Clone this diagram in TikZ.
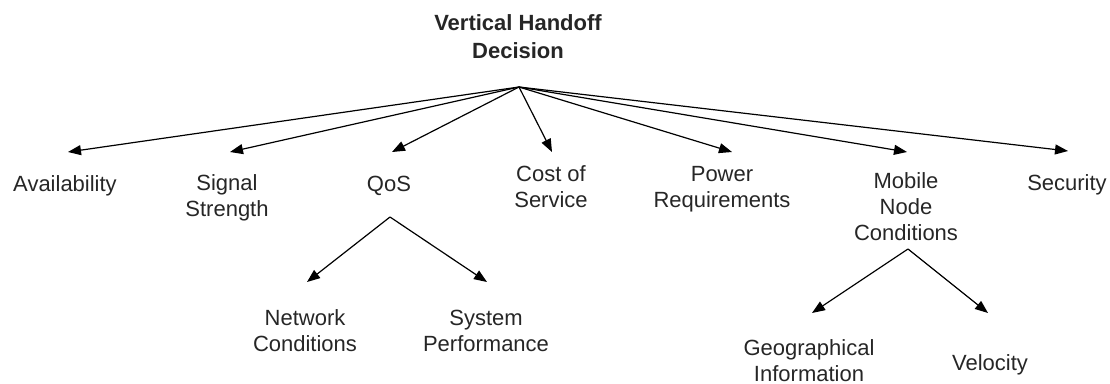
\documentclass[tikz,border=0pt]{standalone}
\usepackage{fontspec}
\setmainfont{Liberation Sans}
\usetikzlibrary{arrows.meta}
\tikzset{
  lbl/.style={align=center, anchor=base, inner sep=0pt, text=black!85,
    font=\fontsize{22}{26}\selectfont},
  ttl/.style={lbl, font=\bfseries\fontsize{22}{28}\selectfont},
  link/.style={line width=1.2pt, -{Triangle[length=13pt,width=10pt]}}
}
\begin{document}
\begin{tikzpicture}[x=1pt,y=-1pt]
\useasboundingbox (0,0) rectangle (1110,383);

% root of the decision tree (positions give the baseline of the last line)
\node[ttl] (vhd) at (518,58) {Vertical Handoff\\Decision};
\coordinate (root) at (519,87);

% first-level criteria
\node[lbl] (avail) at (65,191) {Availability};
\node[lbl] (sig)   at (227,216) {Signal\\Strength};
\node[lbl] (qos)   at (389,191) {QoS};
\node[lbl] (cost)  at (551,207) {Cost of\\Service};
\node[lbl] (power) at (722,207) {Power\\Requirements};
\node[lbl] (mob)   at (906,240) {Mobile\\Node\\Conditions};
\node[lbl] (sec)   at (1067,190) {Security};

\coordinate (tAvail) at (68,152);
\coordinate (tSig)   at (230,152);
\coordinate (tQos)   at (392,152);
\coordinate (tCost)  at (552,152);
\coordinate (tPower) at (732,152);
\coordinate (tMob)   at (907,152);
\coordinate (tSec)   at (1068,151);

\foreach \t in {tAvail,tSig,tQos,tCost,tPower,tMob,tSec}
  \draw[link] (root) -- (\t);

% QoS sub-criteria
\coordinate (qosR) at (390,217);
\node[lbl] (net) at (305,351) {Network\\Conditions};
\node[lbl] (sys) at (486,351) {System\\Performance};
\coordinate (tNet) at (307,282);
\coordinate (tSys) at (487,282);
\draw[link] (qosR) -- (tNet);
\draw[link] (qosR) -- (tSys);

% mobile node sub-criteria
\coordinate (mobR) at (908,249);
\node[lbl] (geo) at (809,381) {Geographical\\Information};
\node[lbl] (vel) at (990,370) {Velocity};
\coordinate (tGeo) at (812,313);
\coordinate (tVel) at (988,313);
\draw[link] (mobR) -- (tGeo);
\draw[link] (mobR) -- (tVel);
\end{tikzpicture}
\end{document}
